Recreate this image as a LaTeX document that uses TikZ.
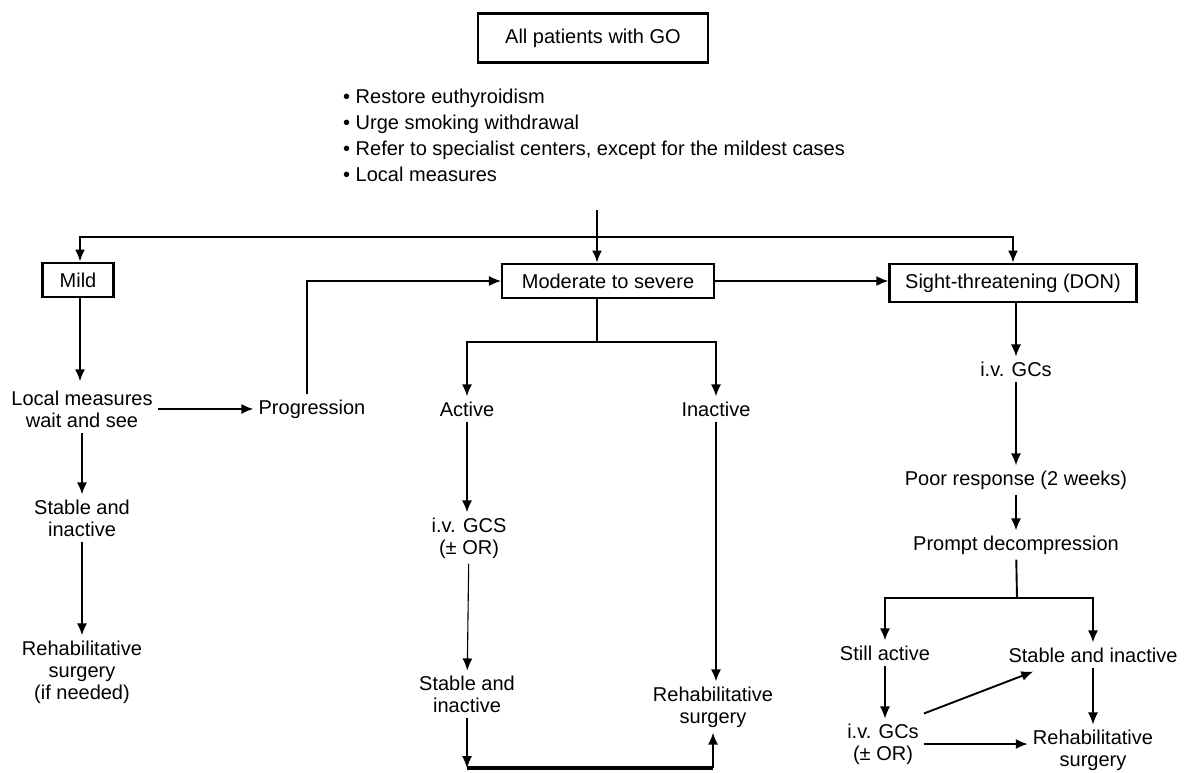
\documentclass[tikz,border=0pt]{standalone}
\usepackage{fontspec}
\setmainfont{Liberation Sans}
\usetikzlibrary{arrows.meta,positioning}
\tikzset{box/.style={draw, line width=2.2pt, inner xsep=8pt, inner ysep=10pt, font=\fontsize{20}{22}\selectfont}}
\tikzset{lbl/.style={align=center, inner sep=5pt, font=\fontsize{20}{22}\selectfont}}
\tikzset{arr/.style={draw, line width=1.9pt, -{Latex[length=12pt,width=10pt]}}}
\tikzset{thinarr/.style={arr, line width=1.1pt}}
\tikzset{conn/.style={draw, line width=1.9pt}}

\begin{document}
\begin{tikzpicture}[x=1pt, y=-1pt]
        \useasboundingbox (0,0) rectangle (1184,772);
        % top
        \node[box, minimum width=230, minimum height=49] (all) at (593,38) {All patients with GO};
        \node[align=left, anchor=west, inner sep=0, font=\fontsize{20}{26}\selectfont] (todo) at (343,135)
            {\textbullet\ Restore euthyroidism\\ \textbullet\ Urge smoking withdrawal\\
             \textbullet\ Refer to specialist centers, except for the mildest cases\\ \textbullet\ Local measures};
        \coordinate (top) at (597,210);
        \coordinate (bar) at (597,237);

        % grades
        \node[box, minimum width=71] (mild) at (78,280) {Mild};
        \node[box, minimum width=212] (mod) at (608,281) {Moderate to severe\hspace{10pt}};
        \node[box, minimum width=247] (sight) at (1013,283) {Sight-threatening (DON)};

        % mild branch
        \node[lbl] (local) at (82,409) {Local measures\\wait and see};
        \node[lbl] (prog) at (312,409) {Progression};
        \node[lbl] (stableA) at (82,518) {Stable and\\inactive};
        \node[lbl] (rehabA) at (82,672) {Rehabilitative\\surgery\\(if needed)};

        % moderate branch
        \coordinate (modsplit) at (597,342);
        \node[lbl] (active) at (467,409) {Active};
        \node[lbl] (inactive) at (716,409) {Inactive};
        \node[lbl] (ivgcB) at (469,538) {i.v. GCS\\(± OR)};
        \node[lbl] (stableB) at (467,694) {Stable and\\inactive};
        \node[lbl] (rehabB) at (713,707) {Rehabilitative\\surgery};
        \coordinate (bottom) at (467,768);

        % DON branch
        \node[lbl] (ivgcA) at (1016,369) {i.v. GCs};
        \node[lbl] (poor) at (1016,480) {Poor response (2 weeks)};
        \node[lbl] (prompt) at (1016,545) {Prompt decompression};
        \coordinate (decsplit) at (1017,598);
        \node[lbl] (still) at (885,653) {Still active};
        \node[lbl] (stableC) at (1093,655) {Stable and inactive};
        \node[lbl] (ivgcC) at (883,744) {i.v. GCs\\(± OR)};
        \node[lbl] (rehabC) at (1093,750) {Rehabilitative\\surgery};

        % connectors
        \draw[conn] (top) -- (bar);
        \draw[arr] (top) -- (mod.north -| top);
        \draw[arr] (bar) -| ([xshift=2pt]mild.north);
        \draw[arr] (bar) -| (sight.north);
        \draw[arr] (mod.east) -- (mod.east -| sight.west);

        \draw[arr] ([xshift=2pt]mild.south) -- ([xshift=2pt,yshift=4pt]mild.south |- local.north);
        \draw[arr] (local.east) -- (prog.west);
        \draw[thinarr] ([xshift=-5pt]prog.north) |- (mod.west);
        \draw[arr] (local) -- (stableA);
        \draw[arr] (stableA) -- (rehabA);

        \draw[conn] (mod.south -| modsplit) -- (modsplit);
        \draw[arr] (modsplit) -| (active);
        \draw[arr] (modsplit) -| (inactive);
        \draw[arr] (active) -- (ivgcB.north -| active);
        \draw[thinarr] (ivgcB) -- (stableB);
        \draw[arr] (inactive) -- (inactive |- rehabB.north);
        \draw[thinarr] (stableB) -- (bottom);
        \draw[line width=3.6pt] (bottom) -- (bottom -| rehabB.south);
        \draw[arr] (bottom -| rehabB.south) -- (rehabB.south);

        \draw[thinarr] (sight.south -| ivgcA) -- (ivgcA);
        \draw[arr] (ivgcA) -- (poor);
        \draw[arr] (poor) -- (prompt);
        \draw[conn] (prompt) -- (decsplit);
        \draw[arr] (decsplit) -| (still);
        \draw[arr] (decsplit) -| (stableC);
        \draw[thinarr] (still) -- (ivgcC.north -| still);
        \draw[arr] ([yshift=5pt]ivgcC.north east) -- ([xshift=30pt,yshift=-4pt]stableC.south west);
        \draw[arr] (ivgcC.east) -- (ivgcC.east -| rehabC.west);
        \draw[thinarr] (stableC) -- (rehabC);
    \end{tikzpicture}
\end{document}
